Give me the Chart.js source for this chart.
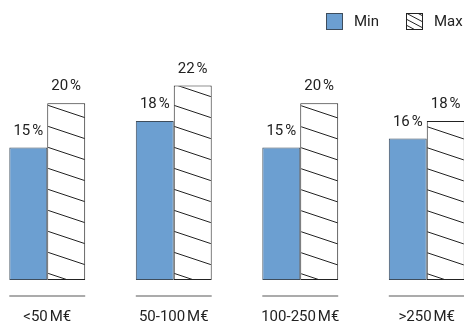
<!DOCTYPE html>
<html>
<head>
<meta charset="utf-8">
<script src="https://cdn.jsdelivr.net/npm/chart.js@4/dist/chart.umd.min.js"></script>
<style>
  html, body { margin: 0; padding: 0; width: 464px; height: 324px; overflow: hidden; background: #fff; }
  #wrap { position: relative; width: 464px; height: 324px; overflow: hidden; }
  #c { position: absolute; left: -16px; top: 0; }
  .legend { position: absolute; top: 13px; font-family: Roboto, sans-serif; font-size: 15px; color: #222; display: flex; align-items: center; line-height: 17px; }
  .legend canvas { display: block; margin-right: 11px; }
</style>
</head>
<body>
<div id="wrap">
  <canvas id="c" width="506" height="354"></canvas>
  <div class="legend" style="left:326px;"><canvas id="lgMin" width="17" height="17"></canvas><span>Min</span></div>
  <div class="legend" style="left:406px;"><canvas id="lgMax" width="17" height="17"></canvas><span>Max</span></div>
</div>
<script>
const categories = ['<50\u202FM€', '50-100\u202FM€', '100-250\u202FM€', '>250\u202FM€'];
const minValues = [15, 18, 15, 16];
const maxValues = [20, 22, 20, 18];
const seriesNames = ['Min', 'Max'];

const BLUE = '#6c9fd1';
const BLUE_BORDER = '#3e4d5c';
const INK = '#222222';
const FONT = 'Roboto, sans-serif';

const ctx = document.getElementById('c').getContext('2d');
const hatch = (function () {
  const t = document.createElement('canvas');
  t.width = 63; t.height = 21;
  const g = t.getContext('2d');
  g.fillStyle = '#fff'; g.fillRect(0, 0, 63, 21);
  g.strokeStyle = INK; g.lineWidth = 1;
  for (let k = -1; k <= 1; k++) {
    g.beginPath(); g.moveTo(0, k * 21); g.lineTo(63, k * 21 + 21); g.stroke();
  }
  return ctx.createPattern(t, 'repeat');
})();

// legend swatches
(function () {
  const a = document.getElementById('lgMin').getContext('2d');
  a.fillStyle = BLUE; a.fillRect(0, 0, 17, 17);
  a.strokeStyle = BLUE_BORDER; a.lineWidth = 1; a.strokeRect(0.5, 0.5, 16, 16);
  const b = document.getElementById('lgMax').getContext('2d');
  b.fillStyle = '#fff'; b.fillRect(0, 0, 17, 17);
  b.save(); b.beginPath(); b.rect(1, 1, 15, 15); b.clip();
  b.strokeStyle = INK; b.lineWidth = 1;
  for (let k = -2; k <= 3; k++) {
    b.beginPath(); b.moveTo(0, k * 6); b.lineTo(17, k * 6 + 9); b.stroke();
  }
  b.restore();
  b.strokeStyle = INK; b.strokeRect(0.5, 0.5, 16, 16);
})();

const valueLabels = {
  id: 'valueLabels',
  afterDatasetsDraw(chart) {
    const c = chart.ctx;
    c.save();
    c.font = '15px ' + FONT;
    c.fillStyle = INK;
    c.textAlign = 'center';
    c.textBaseline = 'bottom';
    chart.data.datasets.forEach((ds, di) => {
      const meta = chart.getDatasetMeta(di);
      meta.data.forEach((el, i) => {
        c.fillText(ds.data[i] + '\u202F%', el.x, el.y - 9);
      });
    });
    c.restore();
  }
};

const groupLines = {
  id: 'groupLines',
  afterDraw(chart) {
    const c = chart.ctx;
    const area = chart.chartArea;
    const m0 = chart.getDatasetMeta(0).data;
    const m1 = chart.getDatasetMeta(1).data;
    c.save();
    c.strokeStyle = '#8f8f8f';
    c.lineWidth = 1.5;
    for (let i = 0; i < categories.length; i++) {
      const left = m0[i].x - m0[i].width / 2;
      const right = m1[i].x + m1[i].width / 2;
      const y = area.bottom + 16;
      c.beginPath(); c.moveTo(left, y); c.lineTo(right, y); c.stroke();
    }
    c.restore();
  }
};

new Chart(ctx, {
  type: 'bar',
  data: {
    labels: categories,
    datasets: [
      { label: seriesNames[0], data: minValues, backgroundColor: BLUE, borderColor: BLUE_BORDER, borderWidth: 1, borderSkipped: false },
      { label: seriesNames[1], data: maxValues, backgroundColor: hatch, borderColor: INK, borderWidth: 1, borderSkipped: false }
    ]
  },
  options: {
    responsive: false,
    devicePixelRatio: 1,
    animation: false,
    layout: { padding: { top: 59, left: 0, right: 0, bottom: 0 } },
    datasets: { bar: { categoryPercentage: 0.6, barPercentage: 1.0 } },
    plugins: { legend: { display: false }, tooltip: { enabled: false } },
    scales: {
      x: {
        grid: { display: false, drawTicks: false },
        border: { display: false },
        ticks: { padding: 28, color: INK, font: { family: FONT, size: 15 }, maxRotation: 0, autoSkip: false }
      },
      y: { display: false, min: 0, max: 25 }
    }
  },
  plugins: [valueLabels, groupLines]
});
</script>
</body>
</html>
